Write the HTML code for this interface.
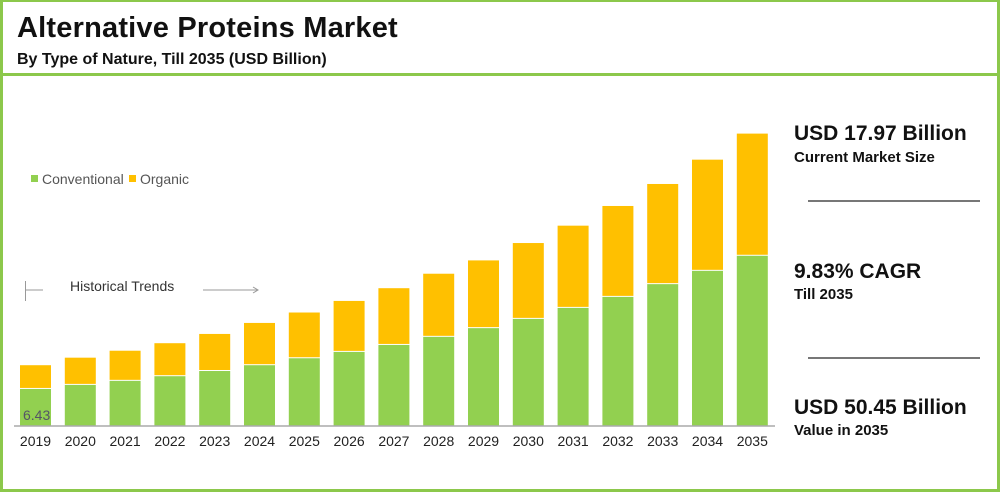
<!DOCTYPE html>
<html><head><meta charset="utf-8"><style>
body{margin:0;background:#fff;}
#root{position:relative;width:1000px;height:492px;overflow:hidden;font-family:"Liberation Sans",Arial,sans-serif;}
.frame{position:absolute;left:0;top:0;width:994px;height:487px;border:3px solid #8cc84b;border-top-width:2px;}
.sep{position:absolute;left:3px;top:73px;width:994px;height:3px;background:#8cc84b;}
.t{position:absolute;white-space:nowrap;color:#111;}
</style></head><body>
<div id="root">
<div class="frame"></div>
<div class="sep"></div>
<div class="t" style="left:17px;top:12px;font-size:29px;font-weight:bold;letter-spacing:0.2px;">Alternative Proteins Market</div>
<div class="t" style="left:17px;top:51px;font-size:16px;font-weight:bold;">By Type of Nature, Till 2035 (USD Billion)</div>
<svg id="chart" width="1000" height="492" style="position:absolute;left:0;top:0;"></svg>
<div class="t" style="left:794px;top:122px;font-size:21px;font-weight:bold;">USD 17.97 Billion</div>
<div class="t" style="left:794px;top:149px;font-size:15px;font-weight:bold;">Current Market Size</div>
<div style="position:absolute;left:808px;top:200px;width:172px;height:2px;background:#777;"></div>
<div class="t" style="left:794px;top:260px;font-size:21px;font-weight:bold;">9.83% CAGR</div>
<div class="t" style="left:794px;top:286px;font-size:15px;font-weight:bold;">Till 2035</div>
<div style="position:absolute;left:808px;top:357px;width:172px;height:2px;background:#777;"></div>
<div class="t" style="left:794px;top:396px;font-size:21px;font-weight:bold;">USD 50.45 Billion</div>
<div class="t" style="left:794px;top:422px;font-size:15px;font-weight:bold;">Value in 2035</div>
</div>
<script>
const categories=["2019","2020","2021","2022","2023","2024","2025","2026","2027","2028","2029","2030","2031","2032","2033","2034","2035"];
const conventional=[6.4,7.1,7.8,8.6,9.5,10.5,11.7,12.8,14.0,15.4,16.9,18.5,20.4,22.3,24.5,26.8,29.4];
const organic=[4.1,4.7,5.2,5.7,6.4,7.3,7.9,8.8,9.8,10.9,11.7,13.1,14.2,15.7,17.3,19.2,21.1];
const firstLabel="6.43";
const NS="http://www.w3.org/2000/svg";
const svg=document.getElementById('chart');
const baseY=426, pxPerUnit=5.79, x0=20, pitch=44.8, bw=31;
const xPos=i=>x0+i*pitch;
const yLen=v=>v*pxPerUnit;
function mk(tag,attrs){const e=document.createElementNS(NS,tag);for(const k in attrs)e.setAttribute(k,attrs[k]);svg.appendChild(e);return e;}
categories.forEach((c,i)=>{
  const hg=yLen(conventional[i]), ho=yLen(organic[i]);
  const g=mk('rect',{x:xPos(i),y:baseY-hg,width:bw,height:hg,fill:'#92d050'});
  
  
  const o=mk('rect',{x:xPos(i),y:baseY-hg-ho,width:bw,height:ho-1,fill:'#ffc000'});
  
  
  const t=mk('text',{x:xPos(i)+bw/2,y:baseY+20,'text-anchor':'middle','font-size':'14','fill':'#222','font-family':'Liberation Sans, sans-serif'});
  t.textContent=c;
  
  
});
const ax=mk('line',{x1:14,x2:775,y1:baseY,y2:baseY,stroke:'#aaa','stroke-width':1.5});


const vl=mk('text',{x:23,y:420,'font-size':'14','fill':'#556','font-family':'Liberation Sans, sans-serif'});
vl.textContent=firstLabel;


const lg1=mk('rect',{x:31,y:175,width:7,height:7,fill:'#92d050'});


const lt1=mk('text',{x:42,y:184,'font-size':'14','fill':'#555','font-family':'Liberation Sans, sans-serif'});
lt1.textContent='Conventional';


const lg2=mk('rect',{x:129,y:175,width:7,height:7,fill:'#ffc000'});


const lt2=mk('text',{x:140,y:184,'font-size':'14','fill':'#555','font-family':'Liberation Sans, sans-serif'});
lt2.textContent='Organic';


const h1=mk('path',{d:'M25.5 281 V301 M26 290 H43',stroke:'#999','stroke-width':1,fill:'none'});


const ht=mk('text',{x:70,y:291,'font-size':'14','fill':'#333','font-family':'Liberation Sans, sans-serif'});
ht.textContent='Historical Trends';


const ha=mk('path',{d:'M203 290 H258 M253 287 L258 290 L253 293',stroke:'#999','stroke-width':1,fill:'none'});


</script>
</body></html>
